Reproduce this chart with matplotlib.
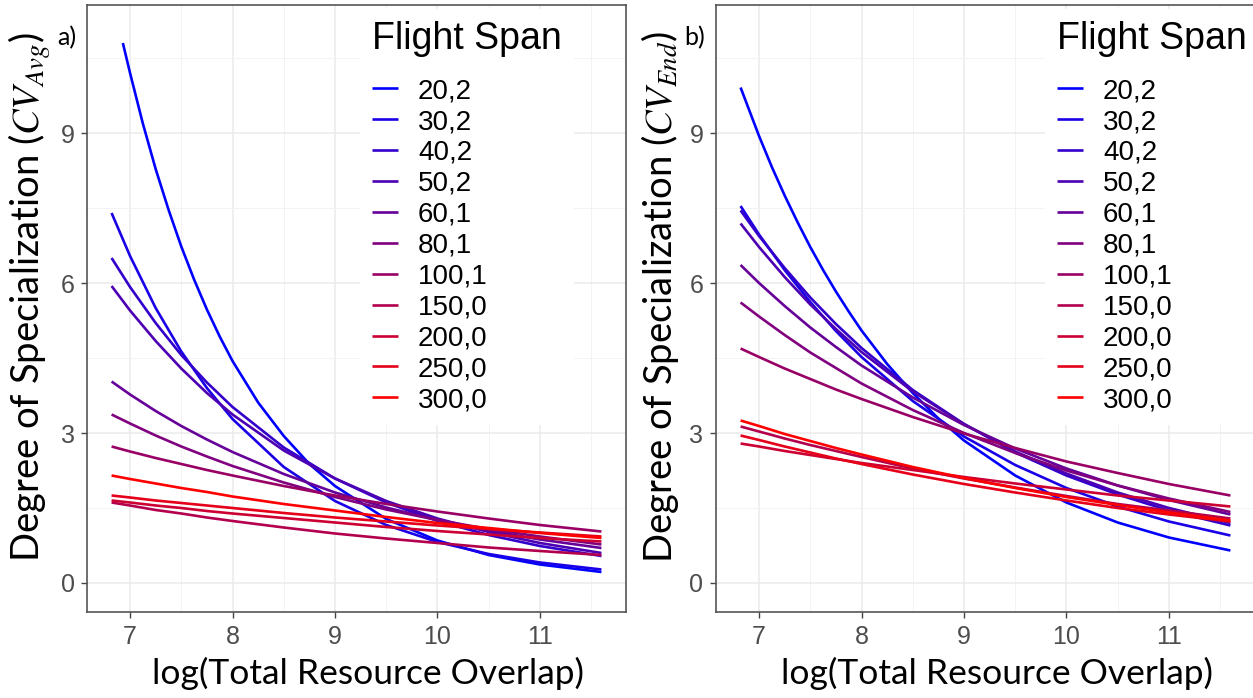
import matplotlib
matplotlib.use("Agg")
import matplotlib.pyplot as plt
from matplotlib.ticker import MultipleLocator

plt.rcParams['mathtext.fontset'] = 'stix'

span_labels = ["20,2", "30,2", "40,2", "50,2", "60,1", "80,1", "100,1",
               "150,0", "200,0", "250,0", "300,0"]

x_vals = [6.82, 7.0, 7.25, 7.5, 7.75, 8.0, 8.5, 9.0, 9.5, 10.0, 10.5, 11.0, 11.6]
# denser x positions read for the strongly curved 20,2 series
x_avg_first = [6.93, 7.0, 7.125, 7.25, 7.375, 7.5, 7.625, 7.75, 7.875, 8.0, 8.25, 8.5,
               8.75, 9.0, 9.5, 10.0, 10.5, 11.0, 11.6]
x_end_first = [6.82, 7.0, 7.125, 7.25, 7.375, 7.5, 7.625, 7.75, 7.875, 8.0, 8.25, 8.5,
               8.75, 9.0, 9.5, 10.0, 10.5, 11.0, 11.6]

# panel a) CV_Avg
avg_20_2 = [10.8, 10.20, 9.19, 8.28, 7.47, 6.73, 6.07, 5.47, 4.93, 4.44, 3.61, 2.94,
            2.38, 1.94, 1.28, 0.85, 0.56, 0.37, 0.22]
avg_30_2 = [7.40, 6.54, 5.50, 4.63, 3.90, 3.28, 2.32, 1.64, 1.16, 0.82, 0.58, 0.41, 0.27]
avg_40_2 = [6.50, 5.92, 5.20, 4.56, 4.01, 3.52, 2.71, 2.09, 1.61, 1.24, 0.96, 0.74, 0.54]
avg_50_2 = [5.94, 5.45, 4.84, 4.29, 3.80, 3.37, 2.65, 2.09, 1.64, 1.29, 1.02, 0.80, 0.60]
avg_60_1 = [4.03, 3.77, 3.44, 3.14, 2.87, 2.62, 2.18, 1.81, 1.51, 1.26, 1.05, 0.87, 0.70]
avg_80_1 = [3.37, 3.19, 2.95, 2.73, 2.53, 2.34, 2.01, 1.72, 1.47, 1.26, 1.08, 0.93, 0.77]
avg_100_1 = [2.73, 2.63, 2.50, 2.38, 2.26, 2.15, 1.94, 1.75, 1.58, 1.43, 1.29, 1.16, 1.03]
avg_150_0 = [1.61, 1.55, 1.46, 1.39, 1.31, 1.24, 1.11, 0.99, 0.89, 0.80, 0.71, 0.64, 0.56]
avg_200_0 = [1.65, 1.61, 1.55, 1.50, 1.44, 1.39, 1.30, 1.21, 1.12, 1.04, 0.97, 0.90, 0.83]
avg_250_0 = [1.75, 1.71, 1.65, 1.60, 1.55, 1.50, 1.40, 1.31, 1.23, 1.15, 1.08, 1.01, 0.93]
avg_300_0 = [2.15, 2.08, 1.99, 1.90, 1.82, 1.73, 1.58, 1.45, 1.32, 1.20, 1.10, 1.00, 0.90]

# panel b) CV_End
end_20_2 = [9.91, 8.94, 8.32, 7.75, 7.22, 6.72, 6.26, 5.83, 5.43, 5.05, 4.38, 3.80,
            3.29, 2.85, 2.15, 1.61, 1.21, 0.91, 0.65]
end_30_2 = [7.54, 6.97, 6.26, 5.62, 5.04, 4.52, 3.64, 2.93, 2.36, 1.90, 1.53, 1.23, 0.95]
end_40_2 = [7.45, 6.94, 6.30, 5.71, 5.18, 4.70, 3.86, 3.18, 2.61, 2.15, 1.77, 1.45, 1.15]
end_50_2 = [7.19, 6.72, 6.12, 5.57, 5.08, 4.62, 3.83, 3.18, 2.63, 2.19, 1.81, 1.50, 1.20]
end_60_1 = [6.36, 6.00, 5.54, 5.11, 4.72, 4.35, 3.71, 3.16, 2.69, 2.29, 1.95, 1.66, 1.37]
end_80_1 = [5.61, 5.33, 4.96, 4.61, 4.30, 3.99, 3.46, 3.00, 2.60, 2.25, 1.95, 1.69, 1.42]
end_100_1 = [4.69, 4.52, 4.29, 4.08, 3.87, 3.68, 3.32, 2.99, 2.70, 2.43, 2.20, 1.98, 1.75]
end_150_0 = [3.13, 3.03, 2.89, 2.76, 2.64, 2.52, 2.29, 2.09, 1.91, 1.74, 1.58, 1.45, 1.29]
end_200_0 = [2.79, 2.73, 2.64, 2.56, 2.48, 2.40, 2.26, 2.12, 1.99, 1.87, 1.75, 1.65, 1.53]
end_250_0 = [2.95, 2.86, 2.73, 2.61, 2.49, 2.38, 2.17, 1.98, 1.81, 1.65, 1.50, 1.37, 1.23]
end_300_0 = [3.25, 3.14, 2.98, 2.84, 2.70, 2.57, 2.32, 2.10, 1.90, 1.72, 1.56, 1.41, 1.25]

avg_series = [avg_20_2, avg_30_2, avg_40_2, avg_50_2, avg_60_1, avg_80_1, avg_100_1,
              avg_150_0, avg_200_0, avg_250_0, avg_300_0]
end_series = [end_20_2, end_30_2, end_40_2, end_50_2, end_60_1, end_80_1, end_100_1,
              end_150_0, end_200_0, end_250_0, end_300_0]

x_ticks = [7, 8, 9, 10, 11]
y_ticks = [0, 3, 6, 9]

n = len(span_labels)
colors = [(i / (n - 1), 0.0, 1 - i / (n - 1)) for i in range(n)]

W, H = 1253, 698
fig = plt.figure(figsize=(W / 100, H / 100), dpi=100)
fig.patch.set_facecolor('white')

axes_px = [(87, 5, 539, 607), (716, 5, 539, 607)]
axs = []
for (l, t, w, h) in axes_px:
    axs.append(fig.add_axes([l / W, 1 - (t + h) / H, w / W, h / H]))

tick_font = 'Liberation Sans'
title_font = ['Lato', 'DejaVu Sans']

for k, ax in enumerate(axs):
    series = avg_series if k == 0 else end_series
    first_x = x_avg_first if k == 0 else x_end_first
    for i, (lab, ys) in enumerate(zip(span_labels, series)):
        xs = first_x if i == 0 else x_vals
        ax.plot(xs, ys, color=colors[i], lw=1.9, label=lab, solid_capstyle='butt',
                solid_joinstyle='round', zorder=3 + i * 0.01)
    ax.set_xlim(6.58, 11.84)
    ax.set_ylim(-0.58, 11.56)
    ax.set_xticks(x_ticks)
    ax.set_yticks(y_ticks)
    ax.xaxis.set_minor_locator(MultipleLocator(0.5))
    ax.yaxis.set_minor_locator(MultipleLocator(1.5))
    ax.grid(which='major', color='#EBEBEB', lw=1.1, zorder=0)
    ax.grid(which='minor', color='#F3F3F3', lw=0.7, zorder=0)
    ax.set_axisbelow(True)
    ax.tick_params(which='minor', length=0)
    ax.tick_params(which='major', length=4, width=1, color='#444444',
                   labelsize=18, labelcolor='#4D4D4D', pad=5)
    for lbl in ax.get_xticklabels() + ax.get_yticklabels():
        lbl.set_fontfamily(tick_font)
    for sp in ax.spines.values():
        sp.set_color('#555555')
        sp.set_linewidth(1.2)
    anchor_x = 0.5065 if k == 0 else 0.6104
    leg = ax.legend(loc='upper left', bbox_to_anchor=(anchor_x, 0.994),
                    title='Flight Span', frameon=True, fancybox=False,
                    edgecolor='none', facecolor='white', framealpha=1,
                    borderpad=0.43, borderaxespad=0, handlelength=0.94,
                    handletextpad=0.72, labelspacing=0.176,
                    prop={'family': tick_font, 'size': 20},
                    title_fontproperties={'family': tick_font, 'size': 27},
                    alignment='left')
    leg._legend_box.sep = 15.5
    for line in leg.get_lines():
        line.set_linewidth(1.9)

fig.text(30 / W, 1 - 297 / H, r"Degree of Specialization ($CV_{Avg}$)", rotation=90,
         ha='center', va='center', fontsize=27.5, family=title_font)
fig.text(660 / W, 1 - 297 / H, r"Degree of Specialization ($CV_{End}$)", rotation=90,
         ha='center', va='center', fontsize=27.5, family=title_font)
fig.text(368 / W, 1 - 673 / H, "log(Total Resource Overlap)", ha='center', va='center',
         fontsize=25.5, family=title_font)
fig.text(997 / W, 1 - 673 / H, "log(Total Resource Overlap)", ha='center', va='center',
         fontsize=25.5, family=title_font)
fig.text(67 / W, 1 - 38 / H, "a)", ha='center', va='center', fontsize=18, family=title_font)
fig.text(695 / W, 1 - 38 / H, "b)", ha='center', va='center', fontsize=18, family=title_font)

fig.savefig('out.png', dpi=100, facecolor='white')
